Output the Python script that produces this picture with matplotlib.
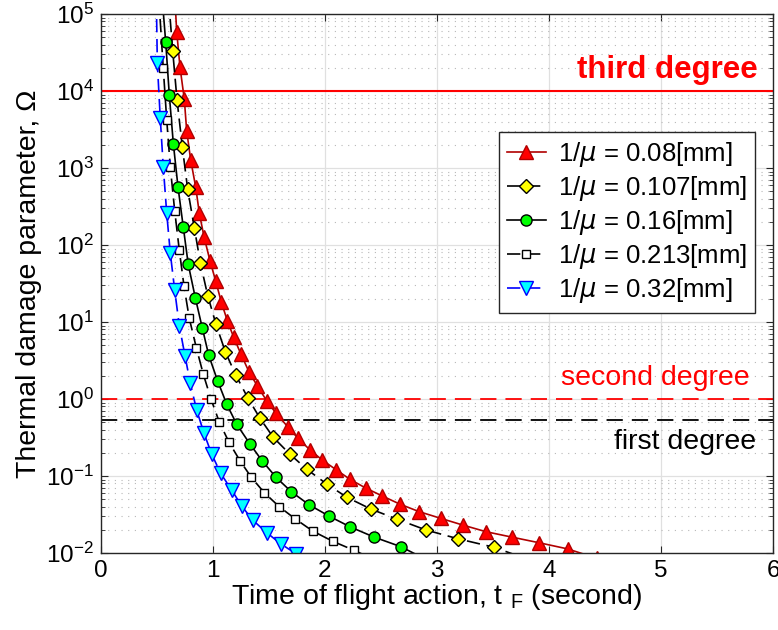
import numpy as np
import matplotlib
matplotlib.use('Agg')
import matplotlib.pyplot as plt
from matplotlib.ticker import LogLocator, NullFormatter

plt.rcParams['font.family'] = ['Liberation Sans', 'DejaVu Sans']
plt.rcParams['mathtext.fontset'] = 'dejavusans'

# Values (t in seconds, Omega dimensionless)
red_t = [0.656, 0.676, 0.705, 0.744, 0.765, 0.801, 0.846, 0.878, 0.920, 0.973, 1.024, 1.074,
         1.128, 1.185, 1.250, 1.321, 1.396, 1.479, 1.563, 1.667, 1.759, 1.866, 1.976, 2.098,
         2.223, 2.363, 2.512, 2.672, 2.842, 3.033, 3.229, 3.438, 3.667, 3.911, 4.167, 4.43]
red_om = [2.0e5, 5.9e4, 2.07e4, 7.8e3, 3.05e3, 1.27e3, 561, 258, 128, 62.5, 34.1, 18.2,
          10.4, 6.33, 3.81, 2.26, 1.48, 0.95, 0.652, 0.437, 0.309, 0.218, 0.161, 0.121,
          0.0906, 0.0698, 0.0550, 0.0429, 0.0344, 0.0282, 0.0231, 0.0189, 0.0161, 0.0136, 0.0113, 0.0085]

yel_t = [0.598, 0.640, 0.679, 0.726, 0.774, 0.833, 0.887, 0.953, 1.027, 1.110, 1.203, 1.310,
         1.420, 1.538, 1.685, 1.839, 2.015, 2.196, 2.408, 2.646, 2.902, 3.188, 3.506, 3.85]
yel_om = [2.0e5, 3.34e4, 7.64e3, 1.89e3, 529, 168, 58.9, 22.0, 9.33, 4.11, 2.05, 1.04,
          0.561, 0.318, 0.193, 0.122, 0.0787, 0.0529, 0.0373, 0.0274, 0.0199, 0.0153, 0.0119, 0.0079]

grn_t = [0.541, 0.578, 0.610, 0.646, 0.688, 0.735, 0.779, 0.842, 0.904, 0.962, 1.042, 1.122,
         1.212, 1.328, 1.438, 1.563, 1.699, 1.857, 2.039, 2.226, 2.438, 2.676, 2.95]
grn_om = [2.0e5, 4.29e4, 8.87e3, 2.07e3, 561, 170, 56.1, 20.7, 8.43, 3.69, 1.71, 0.861,
          0.469, 0.263, 0.158, 0.0962, 0.0625, 0.0424, 0.0300, 0.0218, 0.0161, 0.0121, 0.0076]

sq_t = [0.512, 0.556, 0.587, 0.619, 0.658, 0.699, 0.741, 0.788, 0.851, 0.913, 0.982, 1.056,
        1.143, 1.241, 1.342, 1.458, 1.592, 1.735, 1.890, 2.069, 2.262, 2.48]
sq_om = [2.0e5, 1.97e4, 4.2e3, 1.02e3, 279, 86.1, 29.4, 11.2, 4.64, 2.11, 1.0, 0.503,
         0.274, 0.158, 0.0962, 0.0607, 0.0399, 0.0277, 0.0193, 0.0142, 0.0108, 0.0077]

blu_t = [0.493, 0.503, 0.529, 0.556, 0.587, 0.619, 0.658, 0.699, 0.750, 0.797, 0.854, 0.920,
         0.988, 1.069, 1.167, 1.256, 1.354, 1.479, 1.607, 1.74]
blu_om = [2.0e5, 2.29e4, 4.5e3, 1.04e3, 258, 78, 26.0, 8.95, 3.65, 1.6, 0.72, 0.359,
          0.193, 0.108, 0.0658, 0.0408, 0.0268, 0.0184, 0.0131, 0.0098]

labels = ['0.08', '0.107', '0.16', '0.213', '0.32']

# damage thresholds
third_deg = 1e4
second_deg = 1.0
first_deg = 0.53

fig = plt.figure(figsize=(7.78, 6.30), dpi=100)
ax = fig.add_axes([0.1298, 0.1222, 0.8638, 0.8556])

ax.axhline(third_deg, color='red', lw=1.5, zorder=1.5)
ax.axhline(second_deg, color='red', lw=1.3, ls=(0, (9, 5)), zorder=1.5)
ax.axhline(first_deg, color='black', lw=1.3, ls=(0, (9, 5)), zorder=1.5)

ax.plot(red_t, red_om, '-', color='#b00000', lw=1.2, marker='^', ms=9.5,
        mfc='red', mec='#b00000', label=r'1/$\mu$ = ' + labels[0] + '[mm]')
ax.plot(yel_t, yel_om, ls=(0, (8, 4)), color='black', lw=1.2, marker='D', ms=7,
        mfc='yellow', mec='black', label=r'1/$\mu$ = ' + labels[1] + '[mm]')
ax.plot(grn_t, grn_om, '-', color='black', lw=1.2, marker='o', ms=8,
        mfc='#00ff00', mec='black', label=r'1/$\mu$ = ' + labels[2] + '[mm]')
ax.plot(sq_t, sq_om, ls=(0, (8, 4)), color='black', lw=1.2, marker='s', ms=6,
        mfc='white', mec='black', label=r'1/$\mu$ = ' + labels[3] + '[mm]')
ax.plot(blu_t, blu_om, ls=(0, (8, 4)), color='blue', lw=1.2, marker='v', ms=9.5,
        mfc='cyan', mec='blue', label=r'1/$\mu$ = ' + labels[4] + '[mm]')

ax.set_yscale('log')
ax.set_xlim(0, 6)
ax.set_ylim(1e-2, 1e5)
ax.set_xticks([0, 1, 2, 3, 4, 5, 6])
ax.yaxis.set_major_locator(LogLocator(base=10, numticks=10))
ax.yaxis.set_minor_locator(LogLocator(base=10, subs=np.arange(2, 10), numticks=20))
ax.yaxis.set_minor_formatter(NullFormatter())

ax.grid(True, which='major', color='#e0e0e0', lw=0.9, ls='-')
ax.grid(True, which='minor', axis='y', color='#b8b8b8', lw=0.8, ls=(0, (1, 5)))
ax.set_axisbelow(True)

ax.tick_params(which='both', direction='in', top=True, right=True, labelsize=17.5,
               colors='#262626', labelcolor='black', pad=5)
ax.tick_params(which='major', length=5)
ax.tick_params(which='minor', length=3)
for s in ax.spines.values():
    s.set_color('#262626')
    s.set_linewidth(1.0)

ax.set_xlabel(r'Time of flight action, t $_\mathregular{F}$ (second)', fontsize=20.5, labelpad=0)
ax.set_ylabel('Thermal damage parameter, Ω', fontsize=20.5, labelpad=3)

ax.text(5.86, 10**4.27, 'third degree', color='red', fontsize=22.5, fontweight='bold',
        ha='right', va='center')
ax.text(5.79, 10**0.27, 'second degree', color='red', fontsize=20.5, ha='right', va='center')
ax.text(5.85, 10**-0.56, 'first degree', color='black', fontsize=20.5, ha='right', va='center')

leg = ax.legend(loc='upper left', bbox_to_anchor=(0.592, 0.781), borderaxespad=0, fontsize=18.5,
                handlelength=1.55, labelspacing=0.2, borderpad=0.3, handletextpad=0.45,
                fancybox=False, framealpha=1, edgecolor='#262626')
leg.get_frame().set_linewidth(1.0)

fig.savefig('out.png', dpi=100)
